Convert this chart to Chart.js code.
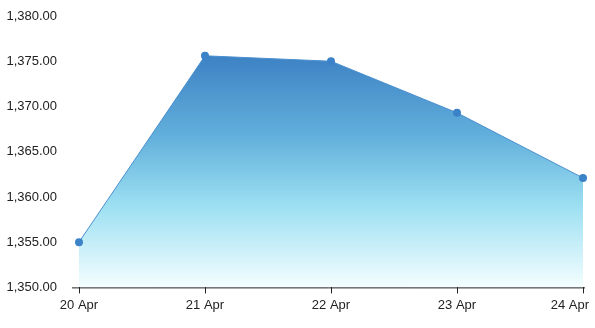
<!DOCTYPE html>
<html>
<head>
<meta charset="utf-8">
<script src="https://cdn.jsdelivr.net/npm/chart.js@4"></script>
<style>
  html, body { margin: 0; padding: 0; background: #fff; }
  #wrap { width: 595px; height: 328px; }
</style>
</head>
<body>
<div id="wrap"><canvas id="myChart"></canvas></div>
<script>
var dateList = ["20 Apr", "21 Apr", "22 Apr", "23 Apr", "24 Apr"];
var priceList = [1355.0, 1375.6, 1375.0, 1369.3, 1362.1];
var yMin = 1350;
var yMax = 1380;
var yStep = 5;

Chart.defaults.font.family = "'Liberation Sans', Arial, sans-serif";
Chart.defaults.font.size = 13;
Chart.defaults.color = "#222";

// gradient from the top of the line down to the x axis
function fillGradient(context) {
    var chart = context.chart;
    var area = chart.chartArea;
    if (!area) return "#7fcbe8";
    var top = chart.scales.y.getPixelForValue(Math.max.apply(null, priceList));
    var g = chart.ctx.createLinearGradient(0, top, 0, area.bottom);
    g.addColorStop(0, "#3d82c4");
    g.addColorStop(0.35, "#62b0dc");
    g.addColorStop(0.65, "#9de0f2");
    g.addColorStop(1, "#f4feff");
    return g;
}

// axis line a bit wider than the plot, last date label kept inside the canvas
var axisPlugin = {
    id: "axisPlugin",
    beforeDraw: function (chart) {
        var items = chart.scales.x.getLabelItems();
        var last = items[items.length - 1];
        if (last && !last._moved) {
            last.options.textAlign = "right";
            last.options.translation[0] = chart.chartArea.right + 6;
            last._moved = true;
        }
    },
    afterDraw: function (chart) {
        var ctx = chart.ctx;
        var a = chart.chartArea;
        ctx.save();
        ctx.strokeStyle = "#222";
        ctx.lineWidth = 1;
        ctx.beginPath();
        ctx.moveTo(a.left - 7, a.bottom + 0.5);
        ctx.lineTo(a.right + 2, a.bottom + 0.5);
        ctx.stroke();
        ctx.restore();
    }
};

const ctx = document.getElementById('myChart');
const myChart = new Chart(ctx, {
    type: 'line',
    data: {
        labels: dateList,
        datasets: [{
            label: 'Price',
            data: priceList,
            borderColor: "#4a8fcf",
            borderWidth: 1,
            backgroundColor: fillGradient,
            fill: 'start',
            tension: 0,
            pointRadius: 4,
            pointBackgroundColor: "#3b82c8",
            pointBorderColor: "#3b82c8",
            pointBorderWidth: 0
        }]
    },
    options: {
        responsive: true,
        maintainAspectRatio: false,
        animation: false,
        layout: {
            padding: { top: 16, bottom: 11, left: 0, right: 12 }
        },
        plugins: {
            legend: { display: false },
            tooltip: { enabled: false }
        },
        scales: {
            x: {
                offset: false,
                border: { display: false },
                grid: {
                    drawOnChartArea: false,
                    drawTicks: true,
                    tickLength: 6,
                    color: "#222"
                },
                ticks: { padding: 4, maxRotation: 0, autoSkip: false },
                afterFit: function (s) { s.paddingRight = 0; s.paddingLeft = 0; }
            },
            y: {
                min: yMin,
                max: yMax,
                border: { display: false },
                grid: { display: false, drawTicks: false },
                ticks: {
                    stepSize: yStep,
                    padding: 22,
                    callback: function (v) {
                        return v.toLocaleString('en-US', { minimumFractionDigits: 2, maximumFractionDigits: 2 });
                    }
                },
                afterFit: function (s) { s.width = 79; s.paddingTop = 0; s.paddingBottom = 0; }
            }
        }
    },
    plugins: [axisPlugin]
});
</script>
</body>
</html>
